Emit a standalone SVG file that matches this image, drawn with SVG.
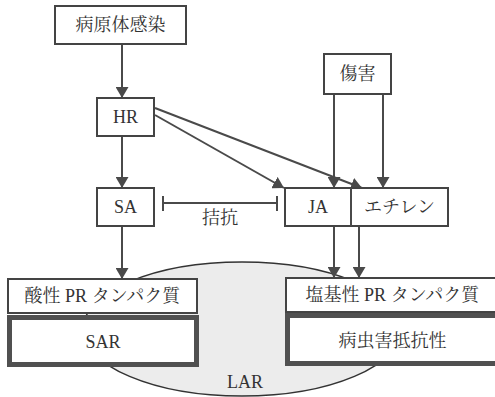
<svg xmlns="http://www.w3.org/2000/svg" width="495" height="397" viewBox="0 0 495 397">
<defs>
<style>
.box{fill:#fff;stroke:#444;stroke-width:2}
.thick{fill:#fff;stroke:#505050;stroke-width:5}
.t{font-family:'Liberation Serif','Noto Serif CJK JP','Noto Sans CJK JP',serif;font-size:18px;fill:#333;text-anchor:middle}
.l{font-family:'Liberation Serif',serif}
.c{stroke:#4a4a4a;stroke-width:2;fill:none}
.a{marker-end:url(#ah)}
</style>
<marker id="ah" markerUnits="userSpaceOnUse" markerWidth="11" markerHeight="13" refX="11" refY="6.5" orient="auto">
<path d="M0,0 L11,6.5 L0,13 z" fill="#4a4a4a"/>
</marker>
</defs>
<rect width="495" height="397" fill="#fff"/>
<g id="lar">
<ellipse cx="242" cy="329" rx="159" ry="67" fill="#ececec" stroke="#333" stroke-width="1.5"/>
<text class="t l" x="245" y="388" font-size="17">LAR</text>
</g>
<g id="connectors">
<line class="c a" x1="122" y1="45" x2="122" y2="98"/>
<line class="c a" x1="122" y1="137" x2="122" y2="188"/>
<line class="c a" x1="122" y1="227" x2="122" y2="279"/>
<line class="c a" x1="155" y1="115" x2="284" y2="188"/>
<line class="c a" x1="155" y1="108" x2="362" y2="188"/>
<line class="c a" x1="334" y1="95" x2="334" y2="188"/>
<line class="c a" x1="383" y1="95" x2="383" y2="188"/>
<line class="c a" x1="334" y1="227" x2="334" y2="278"/>
<line class="c a" x1="359" y1="227" x2="359" y2="278"/>
<line class="c" x1="163" y1="203" x2="277" y2="203"/>
<line class="c" x1="163" y1="196" x2="163" y2="211"/>
<line class="c" x1="277" y1="196" x2="277" y2="211"/>
<text class="t" x="220" y="224" font-size="16">拮抗</text>
</g>
<g id="pathogen">
<rect class="box" x="55" y="6" width="131" height="38"/>
<text class="t" x="120.5" y="31">病原体感染</text>
</g>
<g id="hr">
<rect class="box" x="97" y="98" width="57" height="38"/>
<text class="t l" x="125.5" y="123">HR</text>
</g>
<g id="sa">
<rect class="box" x="97" y="188" width="57" height="38"/>
<text class="t l" x="125.5" y="213">SA</text>
</g>
<g id="wound">
<rect class="box" x="324" y="54" width="67" height="40"/>
<text class="t" x="357.5" y="80">傷害</text>
</g>
<g id="ja-ethylene">
<rect class="box" x="285" y="188" width="163" height="38"/>
<line class="c" x1="351" y1="188" x2="351" y2="226"/>
<text class="t l" x="318" y="213">JA</text>
<text class="t" x="399.5" y="213">エチレン</text>
</g>
<g id="acidic">
<rect class="box" x="8" y="279" width="189" height="34"/>
<text class="t" x="102.5" y="302">酸性 PR タンパク質</text>
</g>
<g id="sar">
<rect class="thick" x="9.5" y="317.5" width="187" height="47"/>
<text class="t l" x="103" y="348">SAR</text>
</g>
<g id="basic">
<rect class="box" x="286" y="278" width="220" height="34"/>
<text class="t" x="392.5" y="301">塩基性 PR タンパク質</text>
</g>
<g id="resistance">
<rect class="thick" x="287.5" y="315.5" width="220" height="48"/>
<text class="t" x="392.5" y="347">病虫害抵抗性</text>
</g>
</svg>
